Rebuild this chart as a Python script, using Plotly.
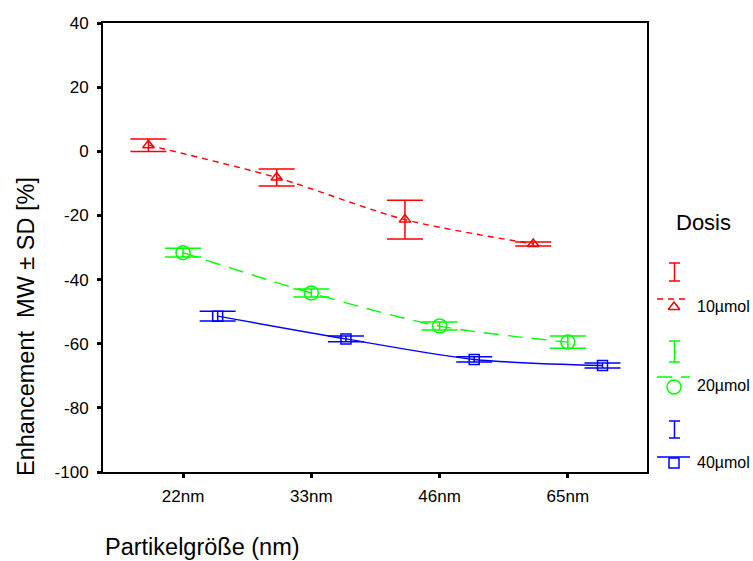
import plotly.graph_objects as go

# ---- data ----
categories = ["22nm", "33nm", "46nm", "65nm"]
cat_index = [0, 1, 2, 3]
series_names = ["10µmol", "20µmol", "40µmol"]
series_offset = [-0.27, 0.0, 0.27]          # clustered position of each dose
mean_10 = [1.9, -8.2, -21.3, -28.9]
sd_10 = [1.95, 2.65, 6.05, 0.6]
mean_20 = [-31.6, -44.2, -54.5, -59.5]
sd_20 = [1.4, 1.25, 1.25, 1.9]
mean_40 = [-51.4, -58.5, -64.9, -66.8]
sd_40 = [1.55, 0.9, 0.8, 0.8]
y_ticks = [40, 20, 0, -20, -40, -60, -80, -100]
y_tick_labels = ["40", "20", "0", "-20", "-40", "-60", "-80", "-100"]

W, H = 753, 561
FONT = "Arial, Liberation Sans, sans-serif"
colors = ["#ff0000", "#00ff00", "#0000ff"]
dashes = ["6px,5px", "15px,9px", "solid"]
symbols = ["triangle-up-open", "circle-open", "square-open"]
msizes = [10, 14, 10]
means = [mean_10, mean_20, mean_40]
sds = [sd_10, sd_20, sd_40]

# plot area in pixels
L, R, T, B = 103, 647, 23, 472

fig = go.Figure()
for i in range(3):
    xs = [c + series_offset[i] for c in cat_index]
    fig.add_trace(go.Scatter(
        x=xs, y=means[i], mode="lines+markers", name=series_names[i],
        line=dict(color=colors[i], width=1.4, dash=dashes[i], shape="spline", smoothing=0.8),
        marker=dict(symbol=symbols[i], size=msizes[i], color=colors[i],
                    line=dict(width=1.5, color=colors[i])),
        error_y=dict(type="data", array=sds[i], visible=True, color=colors[i],
                     thickness=1.5, width=18),
        xaxis="x", yaxis="y", showlegend=False,
    ))

# ---- custom legend (pixel overlay axes) ----
leg_I = [(263, 281), (341, 362), (421, 438)]
leg_line_y = [299, 377, 457]
leg_mark_y = [307, 387, 463]
leg_text_y = [306, 385, 462]
for i in range(3):
    y0, y1 = leg_I[i]
    fig.add_trace(go.Scatter(
        x=[669, 680, None, 674.5, 674.5, None, 669, 680],
        y=[y0, y0, None, y0, y1, None, y1, y1],
        mode="lines", line=dict(color=colors[i], width=1.5),
        xaxis="x2", yaxis="y2", showlegend=False, hoverinfo="skip"))
    fig.add_trace(go.Scatter(
        x=[657, 690], y=[leg_line_y[i]] * 2, mode="lines",
        line=dict(color=colors[i], width=1.4, dash=dashes[i]),
        xaxis="x2", yaxis="y2", showlegend=False, hoverinfo="skip"))
    fig.add_trace(go.Scatter(
        x=[674], y=[leg_mark_y[i]], mode="markers",
        marker=dict(symbol=symbols[i], size=msizes[i], color=colors[i],
                    line=dict(width=1.5, color=colors[i])),
        xaxis="x2", yaxis="y2", showlegend=False, hoverinfo="skip"))

annotations = [
    dict(text="Dosis", x=703 / W, y=1 - 223 / H, xref="paper", yref="paper",
         showarrow=False, font=dict(family=FONT, size=22, color="black"),
         xanchor="center", yanchor="middle"),
    dict(text="Partikelgröße (nm)", x=103 / W, y=1 - 547 / H, xref="paper", yref="paper",
         showarrow=False, font=dict(family=FONT, size=23.5, color="black"),
         xanchor="left", yanchor="middle"),
    dict(text="Enhancement  MW ± SD [%]", x=26 / W, y=1 - 327 / H, xref="paper", yref="paper",
         showarrow=False, textangle=-90, font=dict(family=FONT, size=23.5, color="black"),
         xanchor="center", yanchor="middle"),
]
for i in range(3):
    annotations.append(dict(text=series_names[i], x=695 / W, y=1 - leg_text_y[i] / H,
                            xref="paper", yref="paper", showarrow=False,
                            font=dict(family=FONT, size=16, color="black"),
                            xanchor="left", yanchor="middle"))

fig.update_layout(
    width=W, height=H, autosize=False,
    margin=dict(l=0, r=0, t=0, b=0, pad=0, autoexpand=False),
    paper_bgcolor="white", plot_bgcolor="rgba(0,0,0,0)",
    font=dict(family=FONT, color="black"),
    annotations=annotations,
    xaxis=dict(domain=[L / W, R / W], range=[-0.624, 3.617], tickvals=cat_index,
               ticktext=categories, showline=True, mirror=True, linecolor="black",
               linewidth=2, ticks="outside", ticklen=4, tickwidth=3, tickcolor="black",
               showgrid=False, zeroline=False, tickfont=dict(family=FONT, size=17),
               ticklabelstandoff=4, anchor="y", automargin=False),
    yaxis=dict(domain=[1 - B / H, 1 - T / H], range=[-100, 40], tickvals=y_ticks,
               ticktext=y_tick_labels,
               showline=True, mirror=True, linecolor="black", linewidth=2,
               ticks="outside", ticklen=4, tickwidth=3, tickcolor="black",
               showgrid=False, zeroline=False, tickfont=dict(family=FONT, size=17),
               ticklabelstandoff=5, anchor="x", automargin=False),
    xaxis2=dict(domain=[0, 1], range=[0, W], visible=False, anchor="y2",
                fixedrange=True, automargin=False),
    yaxis2=dict(domain=[0, 1], range=[H, 0], visible=False, anchor="x2",
                fixedrange=True, automargin=False),
)

fig.write_html("out.html")
